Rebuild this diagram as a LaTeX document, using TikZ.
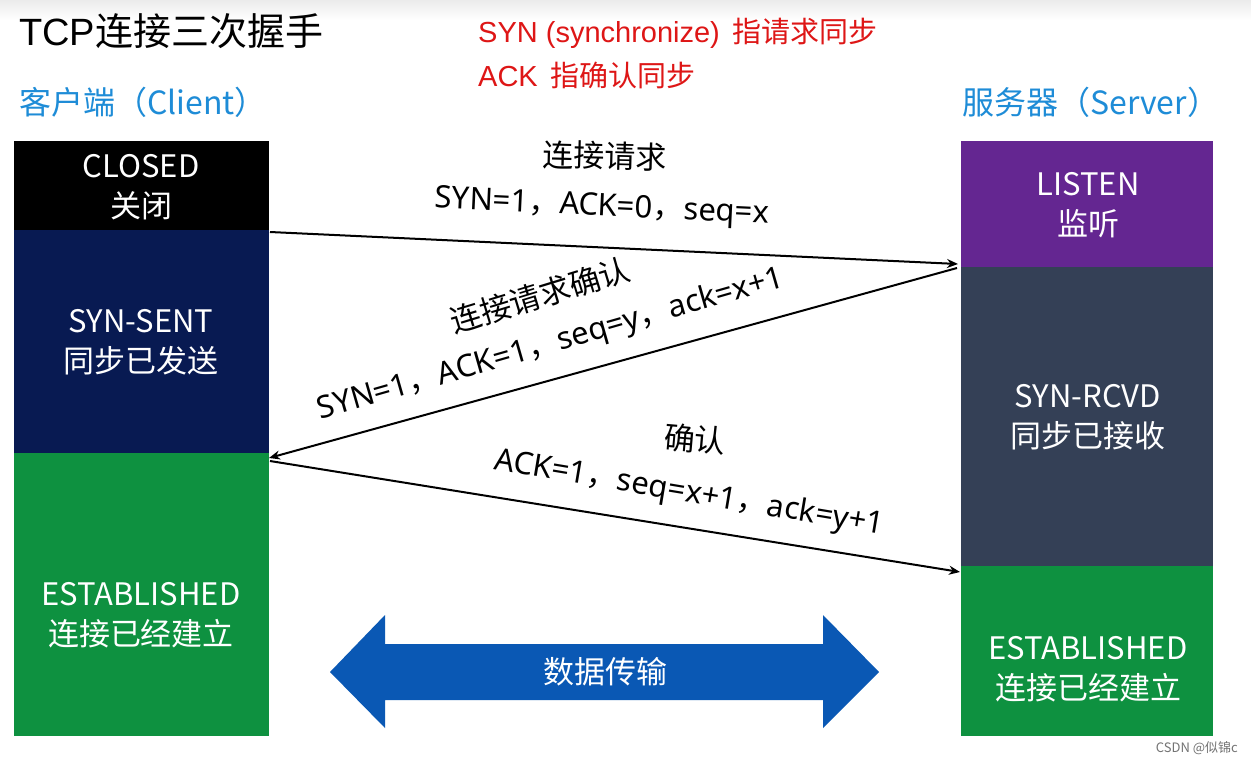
\documentclass[tikz,border=0pt]{standalone}
\usepackage{fontspec}
\setmainfont{Noto Sans CJK SC}
\newfontfamily\latf{Noto Sans}
\newfontfamily\arialf{Liberation Sans}
\usetikzlibrary{arrows.meta}
\definecolor{cnavy}{RGB}{8,26,82}
\definecolor{cpurple}{RGB}{100,38,145}
\definecolor{cslate}{RGB}{52,64,86}
\definecolor{cgreen}{RGB}{14,145,64}
\definecolor{cblue}{RGB}{30,140,215}
\definecolor{cred}{RGB}{222,22,22}
\definecolor{carrowblue}{RGB}{10,88,180}
\tikzset{
  statetext/.style={text=white, align=center, font=\fontsize{31}{40}\selectfont},
  msg/.style={-{Stealth[length=11pt,width=9pt]}, line width=2pt, black},
  msglabel/.style={font=\fontsize{31}{34}\selectfont, inner sep=0pt},
  header/.style={text=cblue, font=\fontsize{32}{36}\selectfont, anchor=west, inner sep=0pt},
  note/.style={anchor=west, inner sep=0pt, text=cred, font=\fontsize{29}{32}\selectfont},
}
\begin{document}
\begin{tikzpicture}[x=1pt,y=-1pt]
\useasboundingbox (0,0) rectangle (1251,764);
\fill[white] (0,0) rectangle (1251,764);
\shade[top color=black!8, bottom color=white] (0,0) rectangle (1251,20);

% title
\node[anchor=west, inner sep=0pt, font=\fontsize{38}{42}\selectfont] (title) at (19,31) {{\arialf TCP}连接三次握手};
% red notes
\node[note] (note1) at (478,33) {{\arialf SYN (synchronize)}\ \ 指请求同步};
\node[note] (note2) at (478,75) {{\arialf ACK}\ \ 指确认同步};

% headers
\node[header] (client) at (19,102) {客户端（Client）};
\node[header] (server) at (962,102) {服务器（Server）};

% client column
\fill[black] (14,141) rectangle (269,230);
\fill[cnavy] (14,230) rectangle (269,453);
\fill[cgreen] (14,453) rectangle (269,736);
\node[statetext] (closed) at (141,187) {CLOSED\\关闭};
\node[statetext] (synsent) at (141,342) {SYN-SENT\\同步已发送};
\node[statetext] (estc) at (141,615) {ESTABLISHED\\连接已经建立};

% server column
\fill[cpurple] (961,141) rectangle (1213,267);
\fill[cslate] (961,267) rectangle (1213,566);
\fill[cgreen] (961,566) rectangle (1213,736);
\node[statetext] (listen) at (1088,205) {LISTEN\\监听};
\node[statetext] (synrcvd) at (1088,417) {SYN-RCVD\\同步已接收};
\node[statetext] (ests) at (1088,669) {ESTABLISHED\\连接已经建立};

% connector endpoints
\coordinate (c1) at (270,232);
\coordinate (s1) at (958,264);
\coordinate (s2) at (957,268);
\coordinate (c2) at (269,458);
\coordinate (c3) at (270,461);
\coordinate (s3) at (960,572);

\draw[msg] (c1) -- (s1);
\draw[msg] (s2) -- (c2);
\draw[msg] (c3) -- (s3);

% labels
\node[msglabel, rotate=-1.5] (l1a) at (605,156) {连接请求};
\node[msglabel, rotate=-2.7] (l1b) at (602,208) {{\latf SYN=1}，{\latf ACK=0}，{\latf seq=x}};
\node[msglabel, rotate=17] (l2a) at (540,295) {连接请求确认};
\node[msglabel, rotate=16] (l2b) at (551,345) {{\latf SYN=1}，{\latf ACK=1}，{\latf seq=y}，{\latf ack=x+1}};
\node[msglabel, rotate=-5] (l3a) at (695,439) {确认};
\node[msglabel, rotate=-9.5] (l3b) at (689,494) {{\latf ACK=1}，{\latf seq=x+1}，{\latf ack=y+1}};

% data transfer double arrow
\fill[carrowblue] (330,672) -- (385,615) -- (385,644) -- (823,644) -- (823,615) -- (879,672) -- (823,728) -- (823,700) -- (385,700) -- (385,728) -- cycle;
\node[text=white, font=\fontsize{31}{34}\selectfont] (data) at (605,672) {数据传输};

% watermark
\node[anchor=east, text=black!55, font=\fontsize{13}{15}\selectfont, inner sep=0pt] (wm) at (1238,748) {CSDN @似锦c};
\end{tikzpicture}
\end{document}
